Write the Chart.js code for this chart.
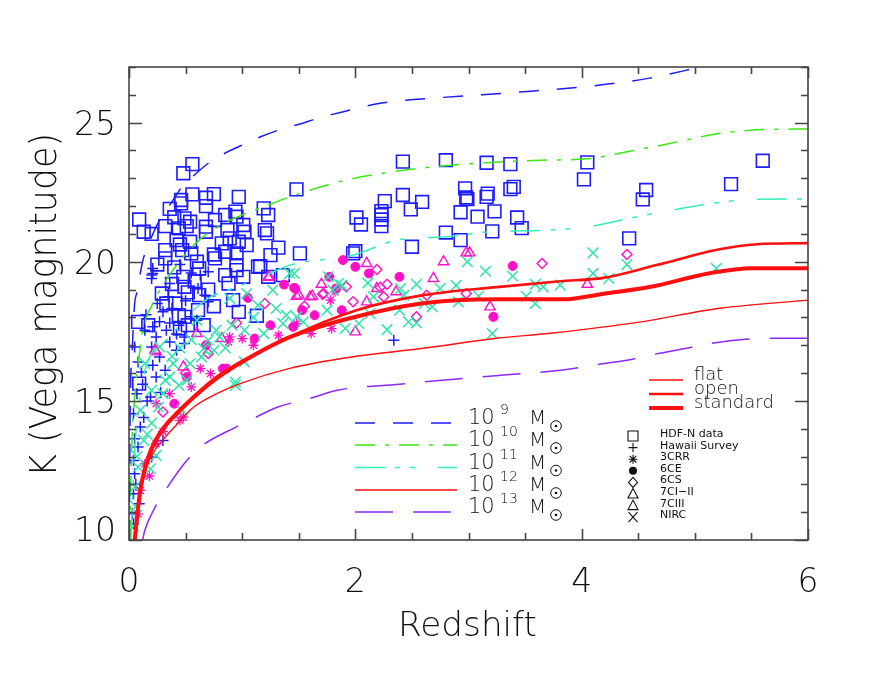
<!DOCTYPE html>
<html>
<head>
<meta charset="utf-8">
<script src="https://cdn.jsdelivr.net/npm/chart.js@4.4.0/dist/chart.umd.min.js"></script>
<style>
  html, body { margin: 0; padding: 0; background: #fff; }
  #wrap { width: 872px; height: 677px; }
</style>
</head>
<body>
<div id="wrap"><canvas id="kz"></canvas></div>
<script>
// tick labels
const xTickValues = [0, 2, 4, 6];
const yTickValues = [10, 15, 20, 25];
const massExponents = ['9', '10', '11', '12', '13'];
const cosmologies = ['flat', 'open', 'standard'];
const sampleNames = ['HDF-N data', 'Hawaii Survey', '3CRR', '6CE', '6CS', '7CI\u2212II', '7CIII', 'NIRC'];

// model tracks, [redshift, K]
const track1e9 = [[0.002,10],[0.01,14.5],[0.03,17.0],[0.05,18.5],[0.07,18.9],[0.12,20.0],[0.2,20.9],[0.27,21.5],[0.37,22.1],[0.47,22.7],[0.6,23.2],[0.72,23.6],[0.87,23.95],[1.02,24.23],[1.18,24.52],[1.35,24.77],[1.51,24.95],[1.67,25.16],[1.85,25.35],[2.0,25.5],[2.22,25.7],[2.75,25.9],[3.45,26.1],[4.16,26.35],[4.6,26.6],[5.05,27.0]];
const track1e10 = [[0.006,10],[0.02,12.8],[0.06,15.6],[0.1,16.9],[0.12,17.5],[0.23,18.65],[0.29,19.1],[0.35,19.48],[0.44,19.98],[0.59,20.67],[0.71,21.06],[0.9,21.5],[1.07,21.8],[1.18,21.96],[1.42,22.33],[1.89,22.91],[2.39,23.27],[2.77,23.44],[3.16,23.56],[3.63,23.65],[4.05,23.7],[4.4,23.95],[4.84,24.3],[5.2,24.6],[5.6,24.75],[6.0,24.77]];
const track1e11 = [[0.018,10],[0.05,13.2],[0.1,15.2],[0.16,16.35],[0.36,17.3],[0.57,18.26],[0.72,18.73],[0.95,19.09],[1.2,19.5],[1.42,19.88],[1.98,20.24],[2.37,20.78],[2.81,20.9],[3.19,21.08],[3.72,21.14],[4.07,21.26],[4.43,21.57],[4.9,21.93],[5.19,22.12],[5.55,22.25],[6.0,22.26]];
const track1e12flat = [[0.06,10.1],[0.08,10.96],[0.12,12.14],[0.21,13.1],[0.3,13.6],[0.41,14.1],[0.57,14.77],[0.78,15.27],[1.0,15.65],[1.42,16.17],[1.95,16.57],[2.6,16.89],[3.25,17.25],[3.72,17.43],[4.51,17.83],[5.22,18.33],[6.0,18.62]];
const track1e12open = [[0.05,10],[0.1,11.7],[0.19,13.1],[0.3,13.95],[0.42,14.5],[0.57,15.1],[0.78,15.8],[1.07,16.55],[1.42,17.3],[2.01,18.26],[2.6,18.8],[3.25,19.09],[3.81,19.3],[4.19,19.42],[4.66,19.88],[5.22,20.45],[5.55,20.63],[6.0,20.67]];
const track1e12std = [[0.05,10],[0.1,11.8],[0.19,13.2],[0.3,14.0],[0.42,14.55],[0.57,15.13],[0.78,15.85],[1.07,16.57],[1.42,17.29],[1.95,17.97],[2.6,18.51],[3.25,18.65],[3.83,18.65],[4.22,18.87],[4.6,19.09],[5.13,19.59],[5.51,19.77],[6.0,19.77]];
const track1e13 = [[0.12,10.0],[0.14,10.35],[0.23,11.17],[0.34,11.9],[0.52,12.9],[0.65,13.4],[0.94,14.05],[1.1,14.37],[1.31,14.77],[1.6,15.09],[1.84,15.38],[2.39,15.6],[3.28,15.92],[3.81,16.1],[4.16,16.32],[4.45,16.5],[4.65,16.68],[4.97,16.93],[5.15,17.07],[5.47,17.22],[5.66,17.25],[6.0,17.25]];

// observed samples, [redshift, K]
const hdfN = [[2.42,23.6],[2.80,23.65],[3.16,23.56],[3.37,23.51],[1.48,22.6],[2.26,22.18],[2.42,22.4],[2.59,22.15],[2.49,21.88],[2.97,22.64],[2.98,22.31],[2.99,22.25],[3.17,22.45],[3.16,22.33],[3.37,22.61],[3.40,22.69],[2.93,21.78],[3.08,21.62],[3.23,21.81],[3.43,21.59],[3.47,21.21],[2.23,21.82],[2.23,21.68],[2.23,21.52],[2.23,21.28],[2.01,21.59],[2.05,21.34],[2.80,21.05],[2.93,20.78],[3.21,21.09],[2.50,20.54],[2.0,20.38],[1.98,20.3],[1.51,20.3],
  [4.05,23.57],[4.02,22.96],[4.57,22.58],[4.54,22.24],[4.42,20.84],[5.32,22.79],[5.6,23.63],
  [0.56,23.51],[0.48,23.18],[0.75,22.43],[0.97,22.33],[0.56,22.42],[0.46,22.22],[0.46,22.1],[0.68,22.3],[0.68,22.0],[1.19,21.92],[1.23,21.68],[0.09,21.52],[0.13,21.08],[0.32,21.28],[0.44,21.2],[0.49,21.56],[0.54,21.44],[0.51,21.28],[0.68,21.26],[0.68,21.08],[0.85,21.68],[0.94,21.8],[0.95,21.62],[1.01,21.32],[1.02,21.08],[0.87,21.14],[1.2,21.14],[1.22,21.02],[1.32,20.51],[0.32,20.42],[0.32,20.12],[0.42,20.78],[0.45,20.62],[0.54,20.72],[0.47,20.42],[0.60,20.0],[0.62,19.76],[0.75,20.26],[0.76,20.12],[0.82,20.66],[0.85,20.36],[0.89,20.84],[0.97,20.72],[1.04,20.6],[0.95,20.3],[0.95,19.88],[0.95,19.7],[1.01,19.46],[1.14,19.82],[0.85,19.52],[0.88,19.22],[0.92,18.62],[0.75,18.4],[0.97,18.2],[1.13,18.06],[1.23,19.46],[1.36,19.52],[0.48,19.46],[0.49,19.1],[0.29,18.86],[0.33,18.5],[0.41,18.5],[0.08,17.84],[0.17,17.72],[0.44,18.08],[0.49,18.02],[0.52,17.72],[0.45,17.6],[0.66,17.72],[0.61,18.26],[0.09,15.62],[1.16,19.84],[1.25,20.24],
  [0.36,21.9],[0.40,21.6],[0.55,20.3],[0.58,19.3],[0.70,19.0],[0.62,18.8],[0.52,18.9],[0.40,19.8],[0.38,19.2],[0.25,19.9],[0.20,21.0],[0.76,21.5]];
const hawaii = [[0.21,19.76],[0.21,19.58],[0.70,19.64],[0.63,19.52],[0.35,18.74],[0.67,18.8],[0.70,18.56],[0.38,18.32],[0.27,17.84],[0.21,17.66],[0.33,17.54],[0.44,17.72],[0.55,18.02],[0.14,17.54],[0.24,17.3],[0.2,16.94],[0.36,17.12],[0.49,17.3],[0.05,16.94],[0.27,16.58],[0.21,16.28],[0.42,16.82],[0.11,16.04],[0.24,15.86],[0.07,15.26],[0.49,17.06],[0.61,19.04],[0.36,19.22],[0.19,15.14],[0.04,14.54],[0.1,14.06],[0.05,13.64],[0.08,13.34],[0.04,12.86],[0.05,12.38],[0.04,11.66],[0.03,10.94],[0.04,10.58],[0.3,13.58],[0.2,12.98],[2.34,17.18],[0.2,19.52],[0.2,19.4],
  [0.45,19.9],[0.55,19.6],[0.3,18.2],[0.15,18.1],[0.42,17.4],[0.6,17.9],[0.32,16.1],[0.12,15.6],[0.16,15.0],[0.08,16.4],[0.28,15.3],[0.13,14.4],[0.06,12.0],[0.09,11.3],[0.5,18.6],[0.25,18.5],[0.36,17.8]];
const s3crr = [[1.48,17.78],[1.79,17.6],[1.61,17.42],[1.82,18.92],[1.78,18.62],[3.22,18.02],[1.32,17.36],[1.0,17.24],[0.88,17.12],[0.63,16.16],[0.72,15.98],[0.48,14.42],[0.36,15.26],[0.24,14.9],[0.45,14.3],[0.24,13.46],[0.14,12.74],[0.1,11.78],[0.08,10.94],[0.89,17.3],[1.1,17.0],[0.55,15.5],[0.3,13.9],[0.18,12.3]];
const s6ce = [[1.89,20.06],[2.0,19.82],[2.12,19.58],[2.39,19.46],[1.47,19.04],[1.77,19.46],[3.39,19.85],[1.88,18.26],[1.83,19.04],[1.64,18.08],[3.22,18.02],[1.53,18.26],[1.37,19.18],[1.46,19.06],[1.05,18.7],[1.25,17.72],[1.45,17.66],[1.11,17.24],[0.86,16.16],[0.51,15.86],[0.83,16.16],[0.68,17.0],[0.4,14.9]];
const s6cs = [[2.19,19.72],[1.92,19.1],[1.71,18.83],[2.28,19.19],[2.22,19.08],[2.63,18.8],[2.98,18.86],[1.98,18.56],[2.54,18.02],[2.25,18.74],[3.65,19.94],[4.4,20.26],[1.72,18.86],[1.2,18.5],[0.95,17.8],[0.7,16.7],[0.5,16.0],[0.3,14.6],[1.55,18.4]];
const s7c12 = [[2.1,19.94],[2.78,20.0],[2.98,20.32],[2.69,19.4],[1.7,19.19],[1.48,18.76],[1.62,18.76],[2.19,19.04],[2.36,18.92],[2.1,18.56],[2.0,17.48],[3.19,18.38]];
const s7c3 = [[3.01,20.32],[4.05,19.19],[1.23,19.44],[1.6,18.74],[1.5,18.8],[0.6,17.42],[0.48,16.22],[0.23,16.82],[0.82,17.24],[1.24,19.46],[0.24,16.76]];
const nirc = [[1.46,19.58],[1.76,19.46],[2.11,19.24],[2.54,19.19],[2.99,20.0],[3.15,19.66],[3.39,19.48],[2.89,19.15],[2.75,19.04],[3.09,18.76],[2.91,18.56],[2.68,18.38],[2.61,18.5],[2.4,19.04],[2.43,18.8],[2.39,18.26],[2.47,17.84],[2.54,17.8],[2.28,17.56],[2.03,17.78],[1.91,17.6],[1.85,19.22],[3.21,17.42],[3.51,18.76],[3.59,19.19],[3.59,18.5],[2.16,18.74],[2.13,18.14],
  [4.1,20.32],[4.1,19.58],[4.24,19.4],[4.4,19.9],[3.81,19.16],[3.66,19.1],[5.19,19.76],
  [1.04,18.86],[1.3,18.32],[1.39,18.08],[1.48,18.02],[1.54,17.84],[1.75,18.26],[1.8,18.98],[1.88,19.16],[0.91,17.72],[0.77,17.54],[0.7,17.18],[0.75,16.82],[1.02,16.4],[0.64,16.58],[0.94,15.56],[0.54,16.34],[0.51,15.74],[0.44,15.56],[0.36,15.86],[0.3,15.26],[0.26,14.78],[0.47,14.66],[1.02,17.54],[1.19,17.42],[0.89,18.68],[1.42,19.58],[1.27,18.98],[1.36,17.78],[1.14,18.44],[0.66,16.88],[0.8,17.3],[0.27,16.94],[0.14,16.34],[0.39,16.34],[0.32,15.74],[0.2,15.38],[0.1,14.66],[0.13,13.58],[0.08,12.62],[0.05,11.9],[0.19,12.56],[0.24,13.04],[0.94,15.68],
  [0.6,17.9],[0.45,16.9],[0.2,14.2],[0.07,13.0],[0.04,10.5],[0.06,11.2],[0.16,13.8],[0.55,17.2],[1.1,18.0],[0.85,16.9],[0.38,16.6]];

const BLUE = '#1c1cff', GREEN = '#3ce614', AQUA = '#36eebb', RED = '#ff0f0f', PURPLE = '#8c28ff';
const PINK = '#ff10c8', CROSS = '#2be6aa';
const INK = '#111';
const FONT = "'DejaVu Sans', sans-serif";
const LIGHT = '200 ';

const pts = a => a.map(([x, y]) => ({x, y}));
const track = (label, data, color, width, dash) => ({
    label: label, data: pts(data), showLine: true, borderColor: color, borderWidth: width,
    borderDash: dash, pointRadius: 0, fill: false, cubicInterpolationMode: 'monotone'
});
const marks = (label, data, style, radius, color, filled, width) => ({
    label: label, data: pts(data), showLine: false, pointStyle: style, pointRadius: radius,
    borderColor: color, backgroundColor: filled ? color : 'rgba(0,0,0,0)',
    pointBorderWidth: width, borderWidth: width
});

// first in the list is drawn last (on top)
const massTracks = [
    track('1e9', track1e9, BLUE, 1.5, [20, 18]),
    track('1e10', track1e10, GREEN, 1.5, [20, 10, 4, 10]),
    track('1e11', track1e11, AQUA, 1.5, [30, 10, 5, 10, 5, 23]),
    track('1e12', track1e12flat, RED, 1.4, []),
    track('1e13', track1e13, PURPLE, 1.5, [38, 20])
];
const redTracks = [
    track('standard', track1e12std, RED, 4, []),
    track('open', track1e12open, RED, 2.6, [])
];
const samples = [
    marks('NIRC', nirc, 'crossRot', 7.5, CROSS, false, 1.5),
    marks('7CIII', s7c3, 'triangle', 6, PINK, false, 1.4),
    marks('7CI-II', s7c12, 'triangle', 6, PINK, false, 1.4),
    marks('6CS', s6cs, 'rectRot', 5, PINK, false, 1.4),
    marks('6CE', s6ce, 'circle', 4.5, PINK, true, 1),
    marks('3CRR', s3crr, 'star', 5, PINK, false, 1.3),
    marks('Hawaii Survey', hawaii, 'cross', 5.5, BLUE, false, 1.5),
    marks('HDF-N data', hdfN, 'rect', 9, BLUE, false, 1.6)
];

function stretchText(ctx, text, x, y, width, angle) {
    ctx.save();
    ctx.translate(x, y);
    ctx.rotate(angle);
    ctx.textAlign = 'center';
    ctx.textBaseline = 'alphabetic';
    var w = ctx.measureText(text).width;
    ctx.scale(width / w, 1);
    ctx.fillText(text, 0, 0);
    ctx.restore();
}

function legendSymbol(ctx, kind, cx, cy) {
    ctx.beginPath();
    switch (kind) {
        case 'rect': ctx.rect(cx - 5, cy - 5, 10, 10); break;
        case 'cross': ctx.moveTo(cx - 4.5, cy); ctx.lineTo(cx + 4.5, cy); ctx.moveTo(cx, cy - 4.5); ctx.lineTo(cx, cy + 4.5); break;
        case 'star':
            ctx.moveTo(cx - 4.5, cy); ctx.lineTo(cx + 4.5, cy); ctx.moveTo(cx, cy - 4.5); ctx.lineTo(cx, cy + 4.5);
            ctx.moveTo(cx - 3.3, cy - 3.3); ctx.lineTo(cx + 3.3, cy + 3.3); ctx.moveTo(cx - 3.3, cy + 3.3); ctx.lineTo(cx + 3.3, cy - 3.3);
            break;
        case 'dot': ctx.arc(cx, cy, 4, 0, Math.PI * 2); ctx.fill(); return;
        case 'diamond': ctx.moveTo(cx, cy - 5); ctx.lineTo(cx + 4.5, cy); ctx.lineTo(cx, cy + 5); ctx.lineTo(cx - 4.5, cy); ctx.closePath(); break;
        case 'triangle': ctx.moveTo(cx, cy - 5.5); ctx.lineTo(cx + 5, cy + 4); ctx.lineTo(cx - 5, cy + 4); ctx.closePath(); break;
        case 'x': ctx.moveTo(cx - 4.5, cy - 5); ctx.lineTo(cx + 4.5, cy + 5); ctx.moveTo(cx - 4.5, cy + 5); ctx.lineTo(cx + 4.5, cy - 5); break;
    }
    ctx.stroke();
}

const frame = {
    id: 'frame',
    afterDraw(chart) {
        const {ctx, chartArea: a, scales: {x, y}} = chart;
        ctx.save();

        // box and inward ticks on all four sides
        ctx.strokeStyle = '#454545';
        ctx.lineWidth = 1.6;
        ctx.strokeRect(a.left, a.top, a.right - a.left, a.bottom - a.top);
        ctx.beginPath();
        for (let i = 0; i <= 12; i++) {
            const v = i * 0.5;
            const px = Math.round(x.getPixelForValue(v)) + 0.5;
            const len = xTickValues.includes(v) ? 11 : 7;
            ctx.moveTo(px, a.bottom); ctx.lineTo(px, a.bottom - len);
            ctx.moveTo(px, a.top); ctx.lineTo(px, a.top + len);
        }
        for (let v = 10; v <= 27; v++) {
            const py = Math.round(y.getPixelForValue(v)) + 0.5;
            const len = yTickValues.includes(v) ? 13 : 7;
            ctx.moveTo(a.left, py); ctx.lineTo(a.left + len, py);
            ctx.moveTo(a.right, py); ctx.lineTo(a.right - len, py);
        }
        ctx.stroke();

        // tick labels
        ctx.fillStyle = INK;
        ctx.font = LIGHT + '33px ' + FONT;
        ctx.textBaseline = 'alphabetic';
        ctx.textAlign = 'center';
        xTickValues.forEach(v => ctx.fillText(String(v), x.getPixelForValue(v), 592));
        ctx.textAlign = 'right';
        yTickValues.forEach(v => {
            const py = Math.min(y.getPixelForValue(v), a.bottom - 11);
            ctx.fillText(String(v), 116, py + 12);
        });

        // axis titles
        ctx.font = LIGHT + '34px ' + FONT;
        stretchText(ctx, 'Redshift', (a.left + a.right) / 2 - 1, 636, 139, 0);
        ctx.font = LIGHT + '38px ' + FONT;
        stretchText(ctx, 'K (Vega magnitude)', 56, 305, 344, -Math.PI / 2);

        // mass legend
        const rows = [423, 445, 467.5, 490, 512];
        massTracks.forEach((ds, i) => {
            const ly = rows[i];
            ctx.strokeStyle = ds.borderColor;
            ctx.lineWidth = ds.borderWidth;
            ctx.setLineDash(ds.borderDash);
            ctx.beginPath();
            ctx.moveTo(355, ly); ctx.lineTo(457, ly);
            ctx.stroke();
            ctx.setLineDash([]);
            ctx.fillStyle = INK;
            ctx.textAlign = 'left';
            ctx.font = LIGHT + '21px ' + FONT;
            ctx.fillText('10', 468, ly + 1);
            ctx.font = LIGHT + '14px ' + FONT;
            ctx.fillText(massExponents[i], 500, ly - 9);
            ctx.font = LIGHT + '20px ' + FONT;
            ctx.fillText('M', 529, ly + 1);
            ctx.strokeStyle = INK;
            ctx.lineWidth = 1;
            ctx.beginPath();
            ctx.arc(556, ly + 3, 5.3, 0, Math.PI * 2);
            ctx.stroke();
            ctx.beginPath();
            ctx.arc(556, ly + 3, 1.3, 0, Math.PI * 2);
            ctx.fill();
        });

        // cosmology legend
        const cosmoWidths = [1.4, 2.6, 4];
        cosmologies.forEach((name, i) => {
            const ly = 380 + i * 14;
            ctx.strokeStyle = RED;
            ctx.lineWidth = cosmoWidths[i];
            ctx.beginPath();
            ctx.moveTo(649, ly); ctx.lineTo(683, ly);
            ctx.stroke();
            ctx.fillStyle = INK;
            ctx.font = LIGHT + '18px ' + FONT;
            ctx.textAlign = 'left';
            ctx.fillText(name, 694, ly);
        });

        // sample legend, black symbols
        const kinds = ['rect', 'cross', 'star', 'dot', 'diamond', 'triangle', 'triangle', 'x'];
        sampleNames.forEach((name, i) => {
            const ly = 436 + i * 11.6;
            ctx.strokeStyle = '#111';
            ctx.fillStyle = '#111';
            ctx.lineWidth = 1.1;
            legendSymbol(ctx, kinds[i], 633, ly);
            ctx.fillStyle = INK;
            ctx.font = '11px ' + FONT;
            ctx.textAlign = 'left';
            ctx.fillText(name, 660, ly + 1);
        });

        ctx.restore();
    }
};

document.addEventListener('DOMContentLoaded', function() {
    var chartItem = document.getElementById('kz');
    new Chart(chartItem, {
        type: 'scatter',
        data: { datasets: redTracks.concat(massTracks, samples) },
        options: {
            responsive: true,
            maintainAspectRatio: false,
            animation: false,
            events: [],
            layout: { padding: { left: 129, top: 67, right: 64, bottom: 137 } },
            scales: {
                x: { type: 'linear', min: 0, max: 6, display: false },
                y: { type: 'linear', min: 10, max: 27, display: false }
            },
            plugins: { legend: { display: false }, tooltip: { enabled: false } }
        },
        plugins: [frame]
    });
});
</script>
</body>
</html>
